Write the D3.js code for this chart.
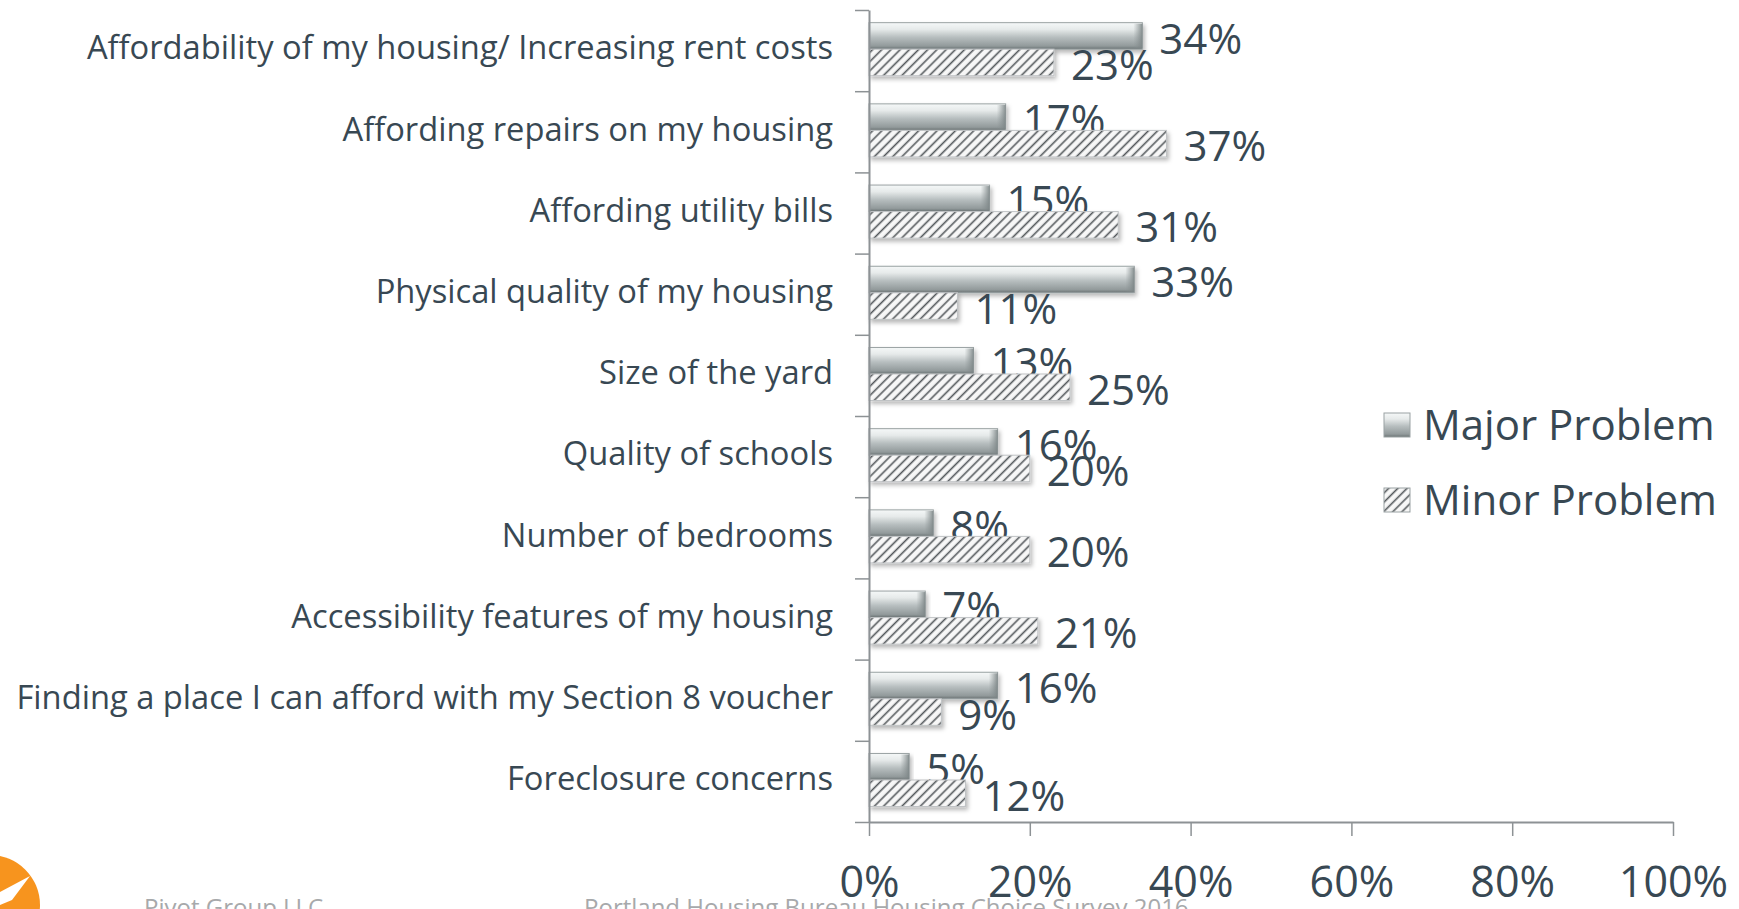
<!DOCTYPE html>
<html>
<head>
<meta charset="utf-8">
<script src="https://cdn.jsdelivr.net/npm/d3@7"></script>
<style>
  body { margin: 0; background: #fff; }
  text { font-family: "Open Sans", sans-serif; }
</style>
</head>
<body>
<div id="chart"></div>
<script>
// chart data
const categories = [
    "Affordability of my housing/ Increasing rent costs",
    "Affording repairs on my housing",
    "Affording utility bills",
    "Physical quality of my housing",
    "Size of the yard",
    "Quality of schools",
    "Number of bedrooms",
    "Accessibility features of my housing",
    "Finding a place I can afford with my Section 8 voucher",
    "Foreclosure concerns"
];
const seriesNames = ["Major Problem", "Minor Problem"];
const majorValues = [34, 17, 15, 33, 13, 16, 8, 7, 16, 5];
const minorValues = [23, 37, 31, 11, 25, 20, 20, 21, 9, 12];
const xTicks = [0, 20, 40, 60, 80, 100];

const footerLeft = "Pivot Group LLC";
const footerRight = "Portland Housing Bureau Housing Choice Survey 2016";

const W = 1739, H = 909;
const textColor = "#384853";
const axisColor = "#8d9295";

const svg = d3.select("#chart").append("svg")
    .attr("width", W)
    .attr("height", H);

// defs: gradient for major bars, hatching for minor bars, shadow
const defs = svg.append("defs");

const grad = defs.append("linearGradient")
    .attr("id", "majorGrad")
    .attr("x1", 0).attr("y1", 0).attr("x2", 0).attr("y2", 1);
grad.append("stop").attr("offset", "0%").attr("stop-color", "#f5f8f8");
grad.append("stop").attr("offset", "25%").attr("stop-color", "#e6eaea");
grad.append("stop").attr("offset", "55%").attr("stop-color", "#b7bebf");
grad.append("stop").attr("offset", "88%").attr("stop-color", "#929a9b");
grad.append("stop").attr("offset", "100%").attr("stop-color", "#6a7374");

const endGrad = defs.append("linearGradient")
    .attr("id", "endGrad")
    .attr("x1", 0).attr("y1", 0).attr("x2", 1).attr("y2", 0);
endGrad.append("stop").attr("offset", "0%").attr("stop-color", "#8a9293").attr("stop-opacity", 0);
endGrad.append("stop").attr("offset", "100%").attr("stop-color", "#7b8485").attr("stop-opacity", 0.9);

const hatch = defs.append("pattern")
    .attr("id", "hatch")
    .attr("patternUnits", "userSpaceOnUse")
    .attr("width", 6.5).attr("height", 6.5)
    .attr("patternTransform", "rotate(45)");
hatch.append("rect").attr("width", 6.5).attr("height", 6.5).attr("fill", "#f7f7f7");
hatch.append("line")
    .attr("x1", 1.5).attr("y1", 0).attr("x2", 1.5).attr("y2", 6.5)
    .attr("stroke", "#53585b").attr("stroke-width", 1.6);

const shadow = defs.append("filter")
    .attr("id", "shadow")
    .attr("x", "-5%").attr("y", "-20%").attr("width", "115%").attr("height", "160%");
shadow.append("feDropShadow")
    .attr("dx", 2).attr("dy", 3).attr("stdDeviation", 2)
    .attr("flood-color", "#000").attr("flood-opacity", 0.28);

// scales
const x = d3.scaleLinear().domain([0, 100]).range([869, 1673]);
const y = d3.scaleBand().domain(categories).range([10, 822]);
const ySub = d3.scaleBand().domain(seriesNames)
    .range([0, y.bandwidth()])
    .paddingOuter(0.53)
    .align(0.45);
// boundaries between categories (Excel puts ticks there)
const yEdge = d3.scaleLinear().domain([0, categories.length]).range([10, 822]);

const rows = categories.map((c, i) => ({
    name: c,
    values: [
        {series: seriesNames[0], value: majorValues[i]},
        {series: seriesNames[1], value: minorValues[i]}
    ]
}));

// bars
const group = svg.selectAll(".row")
    .data(rows)
    .enter().append("g")
    .attr("class", "row")
    .attr("transform", d => "translate(0," + y(d.name) + ")");

const bar = group.selectAll(".bar")
    .data(d => d.values)
    .enter().append("g")
    .attr("class", "bar");

bar.append("rect")
    .attr("x", x(0))
    .attr("y", d => ySub(d.series))
    .attr("width", d => x(d.value) - x(0))
    .attr("height", ySub.bandwidth())
    .attr("fill", d => d.series === seriesNames[0] ? "url(#majorGrad)" : "url(#hatch)")
    .attr("stroke", d => d.series === seriesNames[0] ? "#9aa2a3" : "#c0c3c5")
    .attr("stroke-width", 1)
    .attr("filter", "url(#shadow)");

// bevel at the end of the major bars
bar.filter(d => d.series === seriesNames[0])
    .append("rect")
    .attr("x", d => x(d.value) - 9)
    .attr("y", d => ySub(d.series) + 1)
    .attr("width", 9)
    .attr("height", ySub.bandwidth() - 2)
    .attr("fill", "url(#endGrad)");

// value labels
bar.append("text")
    .attr("x", d => x(d.value) + 17)
    .attr("y", d => ySub(d.series) + ySub.bandwidth() / 2)
    .attr("dy", "0.42em")
    .attr("font-size", 42)
    .attr("fill", textColor)
    .text(d => d.value + "%");

// category labels
svg.append("g").selectAll("text")
    .data(categories)
    .enter().append("text")
    .attr("x", 833)
    .attr("y", d => y(d) + y.bandwidth() / 2)
    .attr("dy", "0.27em")
    .attr("text-anchor", "end")
    .attr("font-size", 32.7)
    .attr("fill", textColor)
    .text(d => d);

// axes
const yAxis = d3.axisLeft(yEdge)
    .ticks(categories.length)
    .tickFormat("")
    .tickSize(14)
    .tickSizeOuter(0);

const yAxisG = svg.append("g")
    .attr("transform", "translate(" + x(0) + ",0)")
    .call(yAxis);

const xAxis = d3.axisBottom(x)
    .tickValues(xTicks)
    .tickFormat(d => d + "%")
    .tickSize(14)
    .tickSizeOuter(0);

const xAxisG = svg.append("g")
    .attr("transform", "translate(0,822)")
    .call(xAxis);

[yAxisG, xAxisG].forEach(g => {
    g.select(".domain").attr("stroke", axisColor).attr("stroke-width", 2);
    g.selectAll(".tick line").attr("stroke", axisColor).attr("stroke-width", 1.5);
});

xAxisG.selectAll(".tick text")
    .attr("y", 75)
    .attr("dy", 0)
    .attr("font-size", 43)
    .attr("font-family", "Open Sans, sans-serif")
    .attr("fill", textColor);

// legend
const legend = svg.append("g")
    .attr("transform", "translate(1384,425)");

const legendItem = legend.selectAll(".legend-item")
    .data(seriesNames)
    .enter().append("g")
    .attr("class", "legend-item")
    .attr("transform", (d, i) => "translate(0," + i * 75 + ")");

legendItem.append("rect")
    .attr("x", 0)
    .attr("y", -12)
    .attr("width", 26)
    .attr("height", 24)
    .attr("fill", (d, i) => i === 0 ? "url(#majorGrad)" : "url(#hatch)")
    .attr("stroke", "#9aa2a3")
    .attr("stroke-width", 1);

legendItem.append("text")
    .attr("x", 39)
    .attr("y", 0)
    .attr("dy", "0.36em")
    .attr("font-size", 42)
    .attr("fill", textColor)
    .text(d => d);

// footer: logo and cut-off slide footer
svg.append("circle")
    .attr("cx", -10)
    .attr("cy", 905)
    .attr("r", 50)
    .attr("fill", "#f7941e");

svg.append("path")
    .attr("d", "M0,892 L30,876 L12,900 L0,905 Z")
    .attr("fill", "#fff");

svg.append("text")
    .attr("x", 144)
    .attr("y", 916)
    .attr("font-size", 24)
    .attr("fill", "#a7a9ab")
    .text(footerLeft);

svg.append("text")
    .attr("x", 584)
    .attr("y", 916)
    .attr("font-size", 24)
    .attr("fill", "#a7a9ab")
    .text(footerRight);
</script>
</body>
</html>
